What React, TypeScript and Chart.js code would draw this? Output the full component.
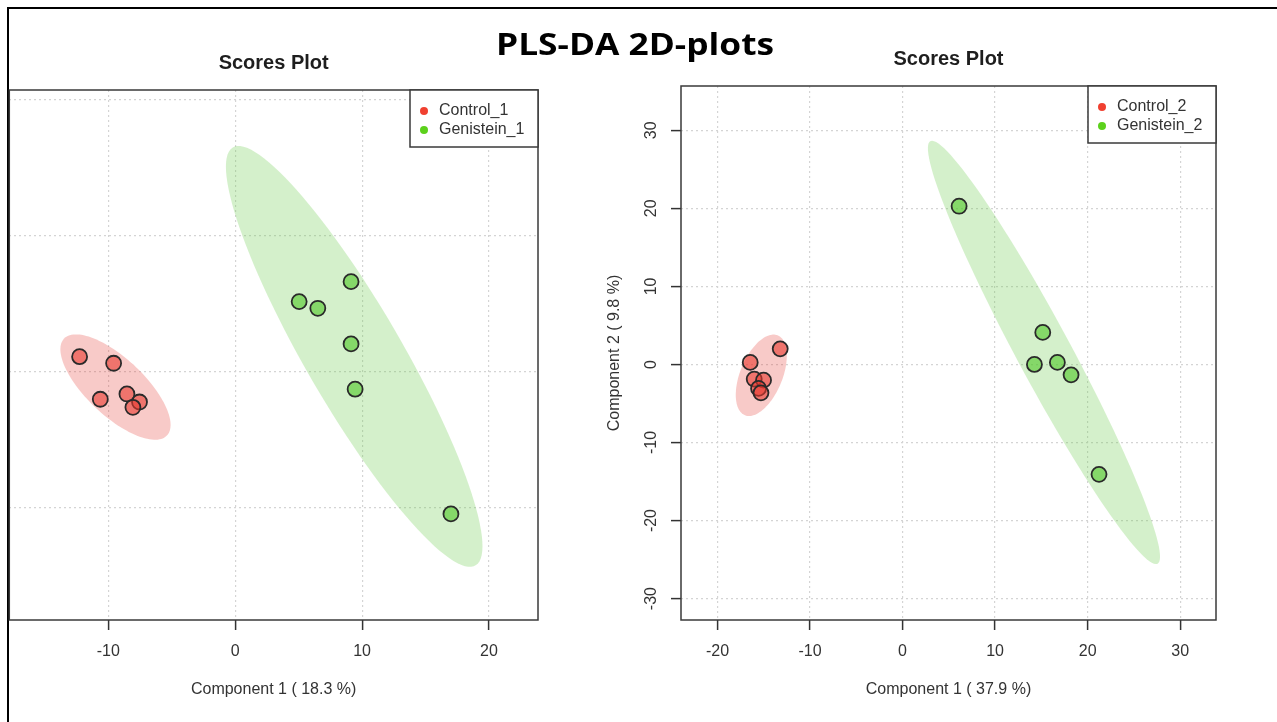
import React, { useEffect, useRef } from "react";
import { Chart, registerables } from "chart.js";

Chart.register(...registerables);

// ---------- data ----------
const groups1 = ["Control_1", "Genistein_1"];
const groups2 = ["Control_2", "Genistein_2"];

const control1X = [-12.26, -9.58, -10.63, -8.53, -7.54, -8.06];
const control1Y = [1.1, 0.62, -2.03, -1.64, -2.23, -2.62];
const genistein1X = [5.04, 6.51, 9.13, 9.13, 9.45, 17.0];
const genistein1Y = [5.15, 4.66, 6.62, 2.04, -1.29, -10.46];

const control2X = [-16.46, -13.22, -16.03, -15.02, -15.56, -15.3];
const control2Y = [0.26, 2.0, -1.88, -2.01, -3.07, -3.64];
const genistein2X = [6.11, 15.15, 14.25, 16.73, 18.21, 21.23];
const genistein2Y = [20.27, 4.1, 0.0, 0.26, -1.33, -14.08];

const xTicks1 = [-10, 0, 10, 20];
const yTicks1 = [-10, 0, 10, 20];
const xTicks2 = [-20, -10, 0, 10, 20, 30];
const yTicks2 = [-30, -20, -10, 0, 10, 20, 30];

const xRange1 = [-17.8, 23.86];
const yRange1 = [-18.26, 20.71];
const xRange2 = [-23.94, 33.87];
const yRange2 = [-32.74, 35.67];

const xTitle1 = "Component 1 ( 18.3 %)";
const xTitle2 = "Component 1 ( 37.9 %)";
const yTitle2 = "Component 2 ( 9.8 %)";
const plotTitle = "Scores Plot";
const mainTitle = "PLS-DA 2D-plots";

// ---------- styles ----------
const FONT = '"Liberation Sans", Arial, Helvetica, sans-serif';
const pointFill = ["rgba(232,55,45,0.58)", "rgba(80,200,40,0.6)"];
const ellipseFill = ["rgba(230,60,50,0.27)", "rgba(100,200,70,0.28)"];
const legendDot = ["#f04030", "#5cd11c"];
const TEXT = "#333333";

function toPoints(xs: number[], ys: number[]) {
  return xs.map((x, i) => ({ x, y: ys[i] }));
}

// 95% confidence ellipse of a group (covariance based)
function confidenceEllipse(xs: number[], ys: number[], n = 120) {
  const m = xs.length;
  const mx = xs.reduce((a, b) => a + b, 0) / m;
  const my = ys.reduce((a, b) => a + b, 0) / m;
  let sxx = 0, syy = 0, sxy = 0;
  for (let i = 0; i < m; i++) {
    const dx = xs[i] - mx, dy = ys[i] - my;
    sxx += dx * dx; syy += dy * dy; sxy += dx * dy;
  }
  sxx /= m - 1; syy /= m - 1; sxy /= m - 1;
  const tr = sxx + syy, det = sxx * syy - sxy * sxy;
  const disc = Math.sqrt(Math.max(tr * tr / 4 - det, 0));
  const l1 = tr / 2 + disc, l2 = Math.max(tr / 2 - disc, 0);
  let vx = sxy, vy = l1 - sxx;
  if (Math.abs(vx) < 1e-12 && Math.abs(vy) < 1e-12) { vx = 1; vy = 0; }
  const nrm = Math.hypot(vx, vy);
  vx /= nrm; vy /= nrm;
  const t = Math.sqrt(5.991464547);
  const a = t * Math.sqrt(l1), b = t * Math.sqrt(l2);
  const pts: number[][] = [];
  for (let i = 0; i < n; i++) {
    const th = (2 * Math.PI * i) / n;
    const c = Math.cos(th), s = Math.sin(th);
    pts.push([mx + a * c * vx - b * s * vy, my + a * c * vy + b * s * vx]);
  }
  return pts;
}

const ellipsePlugin = {
  id: "ellipses",
  beforeDatasetsDraw(chart: any) {
    const { ctx, chartArea: a, scales } = chart;
    const xs = scales.x, ys = scales.y;
    ctx.save();
    ctx.beginPath();
    ctx.rect(a.left, a.top, a.right - a.left, a.bottom - a.top);
    ctx.clip();
    chart.data.datasets.forEach((ds: any, i: number) => {
      const pts = confidenceEllipse(ds.data.map((p: any) => p.x), ds.data.map((p: any) => p.y));
      ctx.beginPath();
      pts.forEach((p, j) => {
        const px = xs.getPixelForValue(p[0]);
        const py = ys.getPixelForValue(p[1]);
        if (j === 0) ctx.moveTo(px, py); else ctx.lineTo(px, py);
      });
      ctx.closePath();
      ctx.fillStyle = ellipseFill[i];
      ctx.fill();
    });
    ctx.restore();
  },
};

function makeDecor(labels: string[], drawYLabels: boolean) {
  return {
    id: "decor",
    afterDraw(chart: any) {
      const { ctx, chartArea: a } = chart;
      ctx.save();
      ctx.strokeStyle = "#3a3a3a";
      ctx.lineWidth = 1.5;
      ctx.strokeRect(a.left, a.top, a.right - a.left, a.bottom - a.top);

      ctx.fillStyle = "#1e1e1e";
      ctx.font = `bold 20px ${FONT}`;
      ctx.textAlign = "center";
      ctx.textBaseline = "middle";
      ctx.fillText(plotTitle, (a.left + a.right) / 2, a.top - 27);

      const lw = 128, lh = 57;
      const lx = a.right - lw, ly = a.top;
      ctx.fillStyle = "#ffffff";
      ctx.fillRect(lx, ly, lw, lh);
      ctx.strokeRect(lx, ly, lw, lh);
      labels.forEach((lab, i) => {
        const cy = ly + 21 + i * 19;
        ctx.beginPath();
        ctx.arc(lx + 14, cy, 4, 0, Math.PI * 2);
        ctx.fillStyle = legendDot[i];
        ctx.fill();
        ctx.fillStyle = TEXT;
        ctx.font = `16px ${FONT}`;
        ctx.textAlign = "left";
        ctx.textBaseline = "middle";
        ctx.fillText(lab, lx + 29, cy);
      });

      if (drawYLabels) {
        const ys = chart.scales.y;
        ctx.font = `16px ${FONT}`;
        ctx.fillStyle = TEXT;
        ctx.textAlign = "center";
        ctx.textBaseline = "middle";
        ys.ticks.forEach((t: any) => {
          const py = ys.getPixelForValue(t.value);
          ctx.save();
          ctx.translate(a.left - 29, py);
          ctx.rotate(-Math.PI / 2);
          ctx.fillText(String(t.value), 0, 0);
          ctx.restore();
        });
      }
      ctx.restore();
    },
  };
}

function datasets(cx: number[], cy: number[], gx: number[], gy: number[], labels: string[]) {
  return [
    { label: labels[0], data: toPoints(cx, cy) },
    { label: labels[1], data: toPoints(gx, gy) },
  ].map((d, i) => ({
    ...d,
    backgroundColor: pointFill[i],
    borderColor: "#2a2a2a",
    borderWidth: 1.8,
    pointRadius: 7.5,
    pointHoverRadius: 7.5,
  }));
}

function gridOpts(drawTicks: boolean) {
  return {
    color: "#d4d4d4",
    lineWidth: 1.2,
    drawTicks,
    tickLength: 10,
    tickColor: "#333333",
    tickWidth: 1.5,
  };
}

function buildConfig(opts: {
  data: any[];
  xRange: number[]; yRange: number[];
  xTicks: number[]; yTicks: number[];
  xTitle: string; yTitle: string | null;
  padding: any; yWidth: number;
  labels: string[]; yLabels: boolean;
}): any {
  return {
    type: "scatter",
    data: { datasets: opts.data },
    options: {
      animation: false,
      responsive: false,
      maintainAspectRatio: false,
      events: [],
      layout: { padding: opts.padding },
      plugins: { legend: { display: false }, tooltip: { enabled: false }, title: { display: false } },
      scales: {
        x: {
          type: "linear",
          min: opts.xRange[0],
          max: opts.xRange[1],
          afterBuildTicks: (s: any) => { s.ticks = opts.xTicks.map((v) => ({ value: v })); },
          afterFit: (s: any) => { s.height = 102; },
          grid: gridOpts(true),
          border: { display: false, dash: [2, 3] },
          ticks: {
            font: { family: FONT, size: 16 },
            color: TEXT,
            padding: 12,
            maxRotation: 0,
            minRotation: 0,
            callback: (v: any) => String(v),
          },
          title: {
            display: true,
            text: opts.xTitle,
            font: { family: FONT, size: 16 },
            color: TEXT,
            padding: { top: 0, bottom: 23 },
          },
        },
        y: {
          type: "linear",
          min: opts.yRange[0],
          max: opts.yRange[1],
          afterBuildTicks: (s: any) => { s.ticks = opts.yTicks.map((v) => ({ value: v })); },
          afterFit: (s: any) => { s.width = opts.yWidth; },
          grid: gridOpts(opts.yLabels),
          border: { display: false, dash: [2, 3] },
          ticks: { display: false },
          title: opts.yTitle
            ? {
                display: true,
                text: opts.yTitle,
                font: { family: FONT, size: 16 },
                color: TEXT,
                padding: { top: 25, bottom: 0 },
              }
            : { display: false },
        },
      },
    },
    plugins: [ellipsePlugin, makeDecor(opts.labels, opts.yLabels)],
  };
}

export default function App() {
  const ref1 = useRef<HTMLCanvasElement>(null);
  const ref2 = useRef<HTMLCanvasElement>(null);
  const titleRef = useRef<HTMLSpanElement>(null);

  useEffect(() => {
    document.body.style.margin = "0";
    const c1 = new Chart(
      ref1.current as HTMLCanvasElement,
      buildConfig({
        data: datasets(control1X, control1Y, genistein1X, genistein1Y, groups1),
        xRange: xRange1, yRange: yRange1, xTicks: xTicks1, yTicks: yTicks1,
        xTitle: xTitle1, yTitle: null,
        padding: { left: 9, top: 90, right: 22, bottom: 0 },
        yWidth: 0,
        labels: groups1, yLabels: false,
      })
    );
    const c2 = new Chart(
      ref2.current as HTMLCanvasElement,
      buildConfig({
        data: datasets(control2X, control2Y, genistein2X, genistein2Y, groups2),
        xRange: xRange2, yRange: yRange2, xTicks: xTicks2, yTicks: yTicks2,
        xTitle: xTitle2, yTitle: yTitle2,
        padding: { left: 0, top: 86, right: 61, bottom: 0 },
        yWidth: 101,
        labels: groups2, yLabels: true,
      })
    );
    const t = titleRef.current;
    if (t) {
      t.style.transform = "translateX(-50%)";
      const w = t.getBoundingClientRect().width;
      if (w > 0) t.style.transform = `translateX(-50%) scaleX(${278 / w})`;
    }
    return () => {
      c1.destroy();
      c2.destroy();
    };
  }, []);

  return (
    <div style={{ position: "relative", width: 1277, height: 722, overflow: "hidden", background: "#ffffff" }}>
      <div
        style={{
          position: "absolute", left: 7, top: 7, width: 1300, height: 740,
          borderTop: "2px solid #000", borderLeft: "2px solid #000",
        }}
      />
      <canvas ref={ref1} width={560} height={722} style={{ position: "absolute", left: 0, top: 0 }} />
      <canvas ref={ref2} width={697} height={722} style={{ position: "absolute", left: 580, top: 0 }} />
      <span
        ref={titleRef}
        style={{
          position: "absolute", left: 635, top: 26, whiteSpace: "nowrap",
          fontFamily: "'Open Sans', 'Noto Sans', sans-serif", fontWeight: 700, fontSize: 30,
          lineHeight: "36px", color: "#000", transformOrigin: "50% 50%",
        }}
      >
        {mainTitle}
      </span>
    </div>
  );
}
